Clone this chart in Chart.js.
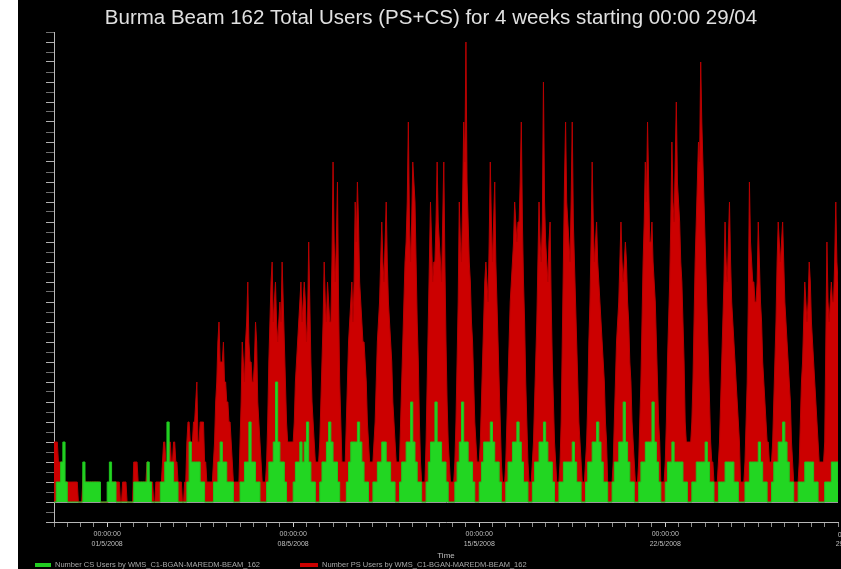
<!DOCTYPE html>
<html><head><meta charset="utf-8">
<script src="https://cdn.jsdelivr.net/npm/chart.js@4.4.1/dist/chart.umd.min.js"></script>
<style>html,body{margin:0;padding:0;background:#fff;overflow:hidden}</style>
</head><body>
<canvas id="c" width="841" height="569"></canvas>
<script>
const chartTitle = 'Burma Beam 162 Total Users (PS+CS) for 4 weeks starting 00:00 29/04';
const seriesNames = ['Number CS Users by WMS_C1-BGAN-MAREDM-BEAM_162', 'Number PS Users by WMS_C1-BGAN-MAREDM-BEAM_162'];
const xAxisTitle = 'Time';
const psSampleHours = 1;         // PS: one value per hour from 00:00 29/04
const csSampleHours = 2;         // CS: one value every 2 hours from 00:00 29/04
const labelHours = [48, 216, 384, 552, 720];
const labelTime = '00:00:00';
const labelDates = ['01/5/2008', '08/5/2008', '15/5/2008', '22/5/2008', '29/5/2008'];

// PS users (red), 24 samples per day
const psUsers = [
  3,3,3,3,2,2,2,2,1,1,1,1,1,1,1,1,1,1,1,1,1,1,0,0,
  0,0,1,2,1,1,1,1,1,1,1,1,1,1,1,1,1,1,0,0,0,0,0,0,
  0,0,1,1,1,1,1,1,1,1,1,1,0,0,1,1,1,1,0,0,0,0,0,0,
  2,2,2,2,1,1,1,1,1,1,1,1,2,2,1,1,1,1,0,0,1,1,1,1,
  1,1,2,3,3,2,2,2,3,3,2,2,3,3,2,2,1,1,1,1,0,0,1,1,
  3,4,4,3,3,3,4,4,5,6,3,3,4,4,4,4,2,2,1,1,1,1,1,1,
  2,3,5,6,8,9,7,7,7,8,6,6,5,5,4,4,3,2,1,1,1,1,1,1,
  3,5,8,7,6,8,9,11,8,7,7,6,6,7,9,8,5,4,3,2,1,1,1,1,
  2,4,7,9,11,12,9,10,11,9,8,9,10,9,12,10,8,6,4,3,3,3,3,3,
  3,4,6,7,8,9,10,11,9,10,11,10,8,9,13,10,7,5,4,3,2,2,2,2,
  3,5,7,9,12,10,9,11,10,9,9,12,17,13,11,13,16,10,6,4,2,2,2,2,
  4,6,8,9,10,11,9,11,15,13,16,14,11,10,9,8,8,7,6,4,3,2,2,2,
  2,3,4,6,8,9,10,12,14,12,11,13,15,12,10,9,8,7,5,4,3,2,2,2,
  2,4,6,8,10,12,13,15,19,14,12,14,17,16,15,12,9,7,4,2,1,1,1,1,
  3,6,9,12,15,13,11,12,12,14,17,14,13,12,11,14,17,12,8,5,3,2,1,1,
  1,1,2,4,7,10,15,13,12,15,19,17,23,16,14,12,11,9,8,6,4,3,2,2,
  2,3,5,7,9,11,12,11,10,13,17,14,12,14,16,12,10,8,6,4,2,1,1,1,
  2,4,6,8,10,11,12,13,15,14,13,14,14,16,19,14,11,9,6,4,2,1,1,1,
  2,3,5,7,9,12,15,13,12,14,21,15,13,12,11,13,14,10,7,5,3,2,1,1,
  1,2,4,8,12,16,19,15,14,13,12,15,19,14,12,10,8,6,4,3,2,1,1,1,
  2,3,5,8,10,13,17,14,12,13,14,12,11,10,9,8,7,6,4,3,1,1,1,1,
  1,2,4,6,8,9,10,12,14,12,11,12,13,12,10,9,7,6,4,3,2,1,1,1,
  2,4,6,9,12,14,17,15,19,16,13,13,14,12,11,10,8,6,4,3,1,1,1,1,
  2,4,7,9,11,14,18,15,14,17,20,16,15,14,12,11,9,7,4,3,3,3,3,3,
  4,6,9,12,14,16,18,17,22,19,17,15,13,11,9,7,5,3,2,2,1,1,1,1,
  2,3,5,7,9,11,14,12,11,13,15,12,10,9,8,7,6,5,4,3,1,1,1,1,
  2,4,6,10,16,13,12,11,11,10,10,11,14,12,10,9,7,6,5,4,3,3,2,2,
  2,3,5,7,9,12,14,13,12,13,14,12,10,9,8,7,6,5,3,2,1,1,1,1,
  1,2,4,6,7,9,11,10,9,10,12,11,9,8,7,6,5,4,3,2,2,2,2,2,
  3,8,13,10,9,10,11,10,10,12,15,12,11
];

// CS users (green), 12 samples per day
const csUsers = [
  0,1,1,2,3,1,0,0,0,0,0,0,
  0,2,1,1,1,1,1,1,1,0,0,0,
  1,2,1,1,0,0,0,0,0,0,0,0,
  1,1,1,1,1,1,2,1,0,0,0,0,
  1,1,2,4,2,2,1,1,0,0,0,0,
  1,3,2,2,2,2,1,1,0,0,0,0,
  1,1,2,3,2,2,1,1,1,0,0,0,
  1,1,2,2,4,2,2,1,1,0,0,0,
  1,2,2,3,6,3,2,2,1,0,0,0,
  1,2,2,3,2,3,4,2,1,1,0,0,
  1,2,2,3,4,3,2,2,1,0,0,0,
  1,2,3,3,3,4,3,2,1,1,0,0,
  1,1,2,2,3,3,2,2,1,1,0,0,
  1,2,2,3,3,5,3,2,1,1,0,0,
  1,2,3,3,5,3,3,2,2,1,0,0,
  0,1,2,3,5,3,3,2,2,1,0,0,
  1,2,3,3,3,4,3,2,2,1,0,0,
  1,2,2,3,3,4,3,2,1,1,0,0,
  1,2,2,3,3,4,3,2,2,1,0,0,
  1,1,2,2,2,2,3,2,1,1,0,0,
  1,2,2,3,3,4,3,2,1,1,0,0,
  1,2,2,3,3,5,3,2,1,1,0,0,
  1,2,2,3,3,3,5,3,2,1,0,0,
  1,2,2,3,2,2,2,2,1,1,0,0,
  1,1,2,2,2,2,3,2,1,1,0,0,
  1,1,1,2,2,2,2,1,1,0,0,0,
  1,1,2,2,2,2,3,2,1,1,0,0,
  1,2,2,3,3,4,3,2,1,1,0,0,
  1,1,1,2,2,2,2,1,1,0,0,0,
  1,1,1,2,2,2,1
];

const toPoints = (arr, step) => arr.map((v, i) => ({ x: i * step, y: v }));
const xMax = (psUsers.length - 1) * psSampleHours;

const decor = {
  id: 'decor',
  beforeDraw(chart) {
    const c = chart.ctx;
    c.save();
    c.fillStyle = '#ffffff';
    c.fillRect(0, 0, chart.width, chart.height);
    c.fillStyle = '#000000';
    c.fillRect(18, 0, chart.width - 18, chart.height);
    c.restore();
  },
  afterDraw(chart) {
    const c = chart.ctx;
    const xs = chart.scales.x;
    c.save();
    c.fillStyle = '#e0e0e0';
    c.font = '20.5px "Liberation Sans", Arial, sans-serif';
    c.textAlign = 'center';
    c.textBaseline = 'alphabetic';
    c.fillText(chartTitle, 431, 24);
    const last = labelHours[labelHours.length - 1];
    if (last > xs.max) {
      const px = xs.getPixelForValue(last);
      c.font = '7px "Liberation Sans", Arial, sans-serif';
      c.fillStyle = '#bdbdbd';
      c.textBaseline = 'middle';
      c.fillText(labelTime, px, 535);
      c.fillText(labelDates[labelDates.length - 1], px, 544);
    }
    const items = [
      { x: 35, w: 16, color: '#22cc22', text: seriesNames[0] },
      { x: 300, w: 18, color: '#cc0000', text: seriesNames[1] }
    ];
    c.font = '7.5px "Liberation Sans", Arial, sans-serif';
    c.textAlign = 'left';
    c.textBaseline = 'middle';
    items.forEach(it => {
      c.fillStyle = it.color;
      c.fillRect(it.x, 563, it.w, 4);
      c.fillStyle = '#a8a8a8';
      c.fillText(it.text, it.x + it.w + 4, 565);
    });
    c.restore();
  }
};

new Chart(document.getElementById('c'), {
  type: 'line',
  data: {
    datasets: [
      {
        label: seriesNames[0],
        data: toPoints(csUsers, csSampleHours),
        borderColor: '#1fc41f',
        backgroundColor: '#22d622',
        borderWidth: 1,
        fill: 'origin',
        stepped: true,
        pointRadius: 0
      },
      {
        label: seriesNames[1],
        data: toPoints(psUsers, psSampleHours),
        borderColor: '#b80000',
        backgroundColor: '#cc0000',
        borderWidth: 1,
        fill: 'origin',
        tension: 0,
        pointRadius: 0
      }
    ]
  },
  options: {
    responsive: false,
    animation: false,
    devicePixelRatio: 1,
    layout: { padding: { top: 32, left: 0, right: 0, bottom: 0 } },
    plugins: { legend: { display: false }, title: { display: false }, tooltip: { enabled: false } },
    scales: {
      x: {
        type: 'linear',
        min: 0,
        max: xMax,
        afterFit: s => { s.height = 47; },
        border: { display: true, color: '#b8b8b8', width: 1 },
        grid: {
          drawOnChartArea: false,
          drawTicks: true,
          tickLength: 5,
          tickColor: ctx => labelHours.includes(ctx.tick && ctx.tick.value) ? '#d0d0d0' : '#8c8c8c'
        },
        ticks: {
          stepSize: 12,
          autoSkip: false,
          maxRotation: 0,
          padding: 3,
          color: '#bdbdbd',
          font: { family: '"Liberation Sans", Arial, sans-serif', size: 7, lineHeight: 1.3 },
          callback: v => {
            const i = labelHours.indexOf(v);
            return i >= 0 ? [labelTime, labelDates[i]] : '';
          }
        },
        title: {
          display: true,
          text: xAxisTitle,
          color: '#bdbdbd',
          font: { family: '"Liberation Sans", Arial, sans-serif', size: 8 },
          padding: { top: 0, bottom: 8 }
        }
      },
      y: {
        type: 'linear',
        min: -1,
        max: 23.5,
        afterFit: s => { s.width = 54; },
        border: { display: true, color: '#b8b8b8', width: 1 },
        grid: {
          drawOnChartArea: true,
          drawTicks: true,
          tickLength: 8,
          color: ctx => (ctx.tick && ctx.tick.value === 0) ? '#9a9a9a' : 'rgba(0,0,0,0)',
          tickColor: ctx => (ctx.tick && Number.isInteger(ctx.tick.value)) ? '#b0b0b0' : '#707070'
        },
        ticks: { stepSize: 0.5, autoSkip: false, display: false }
      }
    }
  },
  plugins: [decor]
});
</script>
</body></html>
